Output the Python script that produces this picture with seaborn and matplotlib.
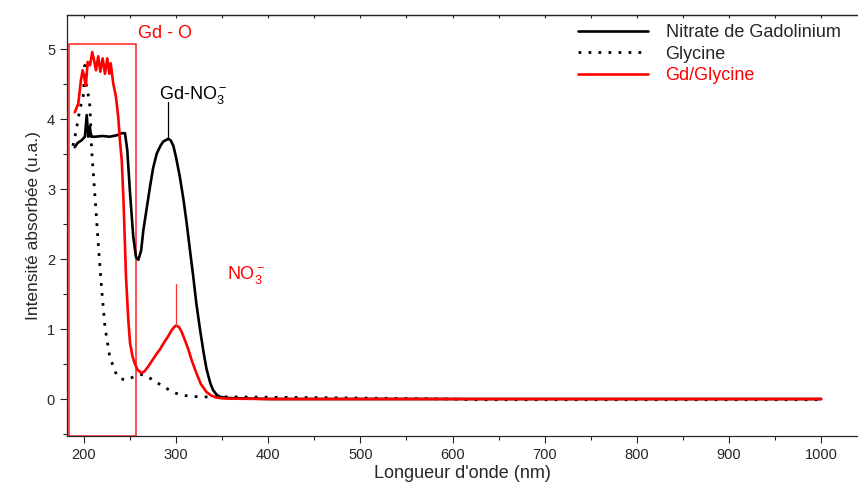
import numpy as np
import pandas as pd
import matplotlib
matplotlib.use("Agg")
import matplotlib.pyplot as plt
from matplotlib.patches import Rectangle
import seaborn as sns

# ==========================================
# DATA
# ==========================================

gd_x = [190, 193, 197.5, 201, 203, 204.6, 206.5, 207.6, 212, 220, 228, 235.5, 241, 244.5,
        247, 250, 253.5, 256.4, 259, 262, 264.4, 268, 271.6, 275, 279, 283, 286, 291.5,
        294, 297, 300, 304, 308, 311.5, 315, 318.6, 322, 326, 330, 333, 337, 340, 344,
        348, 355, 370, 400, 500, 600, 700, 800, 900, 1000]
gd_y = [3.60, 3.66, 3.70, 3.75, 4.06, 3.75, 3.89, 3.75, 3.75, 3.76, 3.75, 3.77, 3.80, 3.80,
        3.56, 2.94, 2.32, 2.03, 1.99, 2.12, 2.41, 2.72, 3.03, 3.30, 3.51, 3.62, 3.68, 3.72,
        3.70, 3.62, 3.45, 3.18, 2.85, 2.51, 2.13, 1.75, 1.36, 0.99, 0.65, 0.43, 0.23, 0.13,
        0.06, 0.03, 0.015, 0.01, 0.0, 0.0, 0.0, 0.0, 0.0, 0.0, 0.0]

gly_x = [188, 191.3, 193.5, 195.7, 199.3, 201, 202.5, 204.7, 206.5, 208.3, 212, 215.5,
         219, 222.8, 228, 235.5, 240, 245.6, 251, 257, 262, 268, 276, 286, 295, 304,
         315, 326, 340, 360, 450, 600, 620, 800, 1000]
gly_y = [3.62, 3.82, 3.99, 4.15, 4.34, 4.77, 4.50, 4.34, 4.18, 3.56, 2.89, 2.22,
         1.60, 1.03, 0.60, 0.34, 0.29, 0.27, 0.30, 0.34, 0.35, 0.33, 0.26, 0.18, 0.11, 0.06,
         0.04, 0.03, 0.03, 0.03, 0.02, 0.0, -0.01, -0.01, -0.01]

mix_x = [190, 193.8, 196.7, 198.6, 200.3, 202, 204, 206.5, 209, 211, 213, 215.5, 217.7,
         220.3, 222.8, 225.3, 227.5, 229, 231.8, 234.7, 237.2, 239, 241, 243, 245.6,
         248, 250, 252.5, 255, 258, 262.6, 266, 270, 274, 278, 282.5, 287, 291.5, 295,
         298, 300, 303, 306, 309, 313, 317, 322, 327, 333, 338, 344, 350, 360, 400, 500,
         600, 700, 800, 900, 1000]
mix_y = [4.10, 4.22, 4.56, 4.70, 4.60, 4.48, 4.82, 4.77, 4.96, 4.84, 4.70, 4.90, 4.68,
         4.87, 4.65, 4.87, 4.65, 4.80, 4.51, 4.32, 4.03, 3.70, 3.41, 2.80, 1.75,
         1.15, 0.80, 0.62, 0.51, 0.42, 0.37, 0.40, 0.47, 0.55, 0.63, 0.71, 0.81, 0.90, 0.98,
         1.03, 1.05, 1.03, 0.96, 0.86, 0.72, 0.55, 0.37, 0.21, 0.10, 0.05, 0.02, 0.01, 0.005,
         0.0, 0.0, 0.0, 0.0, 0.0, 0.0, 0.0]

series_labels = ["Nitrate de Gadolinium", "Glycine", "Gd/Glycine"]

# ==========================================
# STYLE
# ==========================================

sns.set_style("ticks")
plt.rcParams["font.family"] = ["Liberation Sans", "DejaVu Sans"]
plt.rcParams["mathtext.fontset"] = "custom"
plt.rcParams["mathtext.rm"] = "Liberation Sans"
plt.rcParams["mathtext.it"] = "Liberation Sans"

fig = plt.figure(figsize=(8.58, 4.84), dpi=100)
ax = fig.add_axes([0.078, 0.099, 0.922, 0.870])

gd = pd.DataFrame({"x": gd_x, "y": gd_y})
gly = pd.DataFrame({"x": gly_x, "y": gly_y})
mix = pd.DataFrame({"x": mix_x, "y": mix_y})

sns.lineplot(data=gd, x="x", y="y", ax=ax, color="black", linewidth=1.9,
             label=series_labels[0])
sns.lineplot(data=gly, x="x", y="y", ax=ax, color="black", linewidth=2.0,
             linestyle=(0, (1, 2.6)), label=series_labels[1])
sns.lineplot(data=mix, x="x", y="y", ax=ax, color="#ff0000", linewidth=1.9,
             label=series_labels[2])

# Gd - O box
ax.add_patch(Rectangle((184, -0.53), 73, 5.60, fill=False, edgecolor="#ff2020",
                       linewidth=1.1, clip_on=False))
ax.text(259, 5.22, "Gd - O", color="#ff0000", fontsize=13, va="center")

# peak markers
ax.plot([291.5, 291.5], [3.72, 4.25], color="black", linewidth=0.9)
ax.text(281, 4.34, "Gd-NO$_3^-$", color="black", fontsize=13, va="center")
ax.plot([299.9, 299.9], [1.05, 1.65], color="#ff3030", linewidth=0.9)
ax.text(355, 1.77, "NO$_3^-$", color="#ff0000", fontsize=13, va="center")

ax.set_xlim(181.5, 1040)
ax.set_ylim(-0.53, 5.49)
ax.set_xticks(np.arange(200, 1001, 100))
ax.set_xticks(np.arange(200, 1001, 50), minor=True)
ax.set_yticks(np.arange(0, 6, 1))
ax.set_yticks(np.arange(-0.5, 5.5, 0.5), minor=True)
ax.tick_params(axis="both", which="major", labelsize=10.5, length=5, width=0.8,
               direction="out")
ax.tick_params(axis="both", which="minor", length=3, width=0.8, direction="out")
for name, s in ax.spines.items():
    s.set_visible(name != "right")
    s.set_linewidth(0.9)

# short inward ticks along the top frame
top = ax.secondary_xaxis("top")
top.set_xticks(np.arange(200, 1001, 50))
top.tick_params(direction="in", length=2.5, width=0.8, labeltop=False)
top.spines["top"].set_linewidth(0.9)

ax.set_xlabel("Longueur d'onde (nm)", fontsize=13, labelpad=2)
ax.set_ylabel("Intensité absorbée (u.a.)", fontsize=12.5, labelpad=4)

leg = ax.legend(loc="upper left", frameon=False, fontsize=13, handlelength=3.9,
                handletextpad=0.95, labelspacing=0.25, borderaxespad=0, borderpad=0,
                bbox_to_anchor=(0.646, 0.978))
leg.get_texts()[2].set_color("#ff0000")

fig.savefig("out.png", dpi=100)
